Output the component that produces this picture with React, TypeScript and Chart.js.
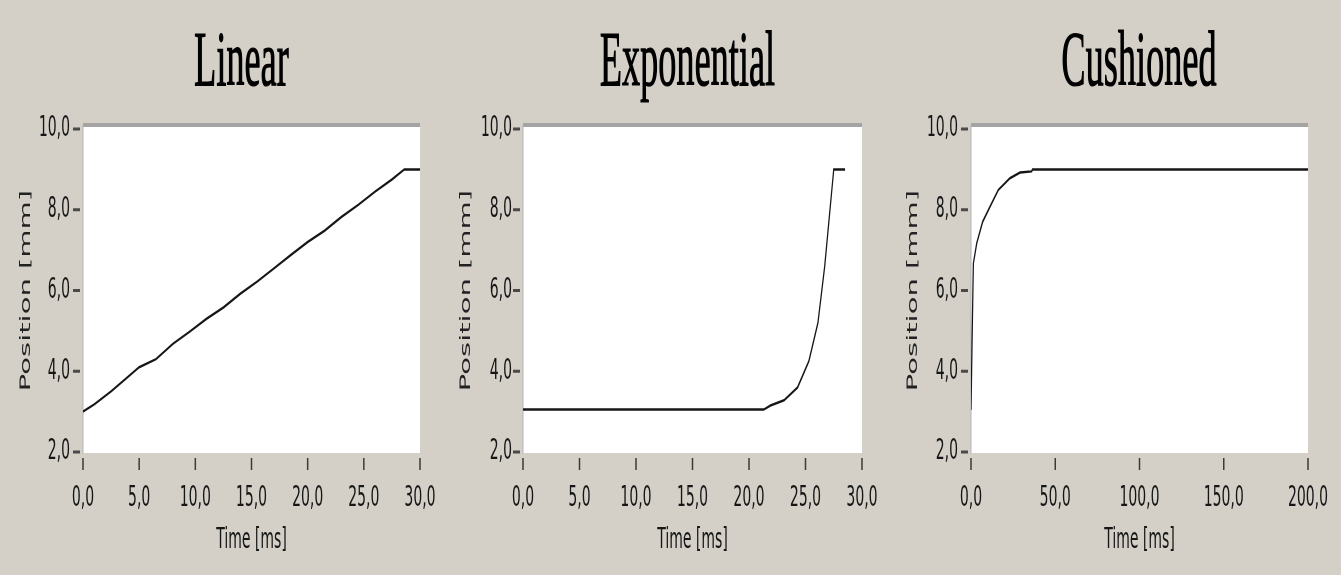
import React, { useEffect, useRef } from "react";
import { Chart, registerables } from "chart.js";

Chart.register(...registerables);

// ---- data ----
const chartTitles = ["Linear", "Exponential", "Cushioned"];

const linearTime = [0, 1, 2.5, 4, 5, 6.5, 8, 9.5, 11, 12.5, 14, 15.5, 17, 18.5, 20, 21.5, 23, 24.5, 26, 27.5, 28.6, 30];
const linearPos = [3.0, 3.18, 3.5, 3.86, 4.1, 4.3, 4.68, 4.98, 5.3, 5.58, 5.92, 6.22, 6.55, 6.88, 7.2, 7.48, 7.82, 8.12, 8.45, 8.75, 9.0, 9.0];

const expTime = [0, 21.3, 21.9, 23.1, 24.3, 25.3, 26.1, 26.7, 27.1, 27.5, 28.5];
const expPos = [3.05, 3.05, 3.15, 3.28, 3.6, 4.25, 5.2, 6.6, 7.8, 9.0, 9.0];

const cushTime = [0, 1, 1.4, 3.4, 6.9, 11.3, 16.2, 23.1, 29.1, 36, 36.5, 200];
const cushPos = [3.04, 5.68, 6.67, 7.17, 7.7, 8.08, 8.49, 8.78, 8.92, 8.95, 9.0, 9.0];

const yMin = 2;
const yMax = 10;
const yStep = 2;
const shortTimeMax = 30;
const shortTimeStep = 5;
const longTimeMax = 200;
const longTimeStep = 50;

const xAxisTitle = "Time [ms]";
const yAxisTitle = "Position [mm]";

// ---- layout (screen px) ----
const S = 0.5; // horizontal compression of every panel
const H = 575;
const PLOT_TOP = 129;
const PLOT_BOTTOM = 452;

type Panel = {
  title: string;
  time: number[];
  pos: number[];
  xMax: number;
  xStep: number;
  left: number;
  width: number;
  plotLeft: number;
  plotRight: number;
  yTitleX: number;
  yLabelGap: number;
  titleX: number;
};

const panels: Panel[] = [
  { title: chartTitles[0], time: linearTime, pos: linearPos, xMax: shortTimeMax, xStep: shortTimeStep, left: 0, width: 483, plotLeft: 83, plotRight: 420, yTitleX: 26, yLabelGap: 13, titleX: 241.5 },
  { title: chartTitles[1], time: expTime, pos: expPos, xMax: shortTimeMax, xStep: shortTimeStep, left: 450, width: 475, plotLeft: 523, plotRight: 862, yTitleX: 466, yLabelGap: 11, titleX: 687.5 },
  { title: chartTitles[2], time: cushTime, pos: cushPos, xMax: longTimeMax, xStep: longTimeStep, left: 900, width: 478, plotLeft: 971, plotRight: 1308, yTitleX: 913, yLabelGap: 13, titleX: 1139 },
];

const fmt = (v: number | string) => Number(v).toFixed(1).replace(".", ",");

const framePlugin = {
  id: "frame",
  beforeDraw(chart: any) {
    const { ctx, chartArea } = chart;
    const { left, right, top, bottom } = chartArea;
    ctx.save();
    ctx.fillStyle = "#ffffff";
    ctx.fillRect(left, top - 4, right - left, bottom - top + 5);
    ctx.fillStyle = "#a4a4a4";
    ctx.fillRect(left, top - 6, right - left, 4);
    ctx.fillStyle = "#b4b4b4";
    ctx.fillRect(left - 1, top - 4, 2, bottom - top + 5);
    const xs = chart.scales.x;
    const ys = chart.scales.y;
    ctx.strokeStyle = "#3a3a3a";
    ctx.lineWidth = 3;
    xs.ticks.forEach((t: any) => {
      const px = xs.getPixelForValue(t.value);
      ctx.beginPath();
      ctx.moveTo(px, bottom + 6);
      ctx.lineTo(px, bottom + 18);
      ctx.stroke();
    });
    ctx.strokeStyle = "#4a4a4a";
    ys.ticks.forEach((t: any) => {
      const py = ys.getPixelForValue(t.value);
      ctx.beginPath();
      ctx.moveTo(left - 20, py);
      ctx.lineTo(left - 6, py);
      ctx.stroke();
    });
    ctx.restore();
  },
};

const panelTitlePlugin = {
  id: "panelTitle",
  afterDraw(chart: any, _args: any, opts: any) {
    const ctx = chart.ctx;
    ctx.save();
    ctx.font = "78px 'Liberation Serif', 'Times New Roman', serif";
    ctx.fillStyle = "#000000";
    ctx.strokeStyle = "#000000";
    ctx.lineWidth = 1.2;
    ctx.textAlign = "center";
    ctx.textBaseline = "alphabetic";
    ctx.translate(opts.cx, opts.baseline);
    ctx.scale(opts.k, 1);
    ctx.fillText(opts.text, 0, 0);
    ctx.strokeText(opts.text, 0, 0);
    ctx.restore();
  },
};

function PanelChart({ p }: { p: Panel }) {
  const ref = useRef<HTMLCanvasElement | null>(null);
  useEffect(() => {
    if (!ref.current) return;
    const logicalW = Math.round(p.width / S);
    const plotLeftL = (p.plotLeft - p.left) / S;
    const plotRightL = (p.plotRight - p.left) / S;
    const rightPad = logicalW - plotRightL;
    const yTitleCenterL = (p.yTitleX - p.left) / S;
    const yTitleFont = 29;
    const tickFont = { family: "'DejaVu Sans', Verdana, sans-serif", size: 28 };
    const chart = new Chart(ref.current, {
      type: "line",
      data: {
        datasets: [
          {
            data: p.time.map((t, i) => ({ x: t, y: p.pos[i] })),
            borderColor: "#161616",
            borderWidth: 2.5,
            pointRadius: 0,
            tension: 0,
            fill: false,
          },
        ],
      },
      plugins: [framePlugin, panelTitlePlugin],
      options: {
        animation: false,
        responsive: false,
        maintainAspectRatio: false,
        layout: { padding: { left: 0, right: rightPad, top: PLOT_TOP, bottom: 0 } },
        plugins: {
          legend: { display: false },
          tooltip: { enabled: false },
          title: { display: false },
          panelTitle: { text: p.title, cx: (p.titleX - p.left) / S, baseline: 85, k: 0.93 },
        },
        scales: {
          x: {
            type: "linear",
            min: 0,
            max: p.xMax,
            grid: { display: false, drawTicks: false },
            border: { display: false },
            ticks: {
              stepSize: p.xStep,
              autoSkip: false,
              maxRotation: 0,
              padding: 30,
              color: "#161616",
              font: tickFont,
              callback: (v: any) => fmt(v),
            },
            title: {
              display: true,
              text: xAxisTitle,
              color: "#161616",
              font: { family: "'DejaVu Sans', Verdana, sans-serif", size: 28, lineHeight: 1.2 },
              padding: { top: 0, bottom: 17 },
            },
            afterFit: (s: any) => {
              s.height = H - PLOT_BOTTOM;
            },
          },
          y: {
            type: "linear",
            min: yMin,
            max: yMax,
            grid: { display: false, drawTicks: false },
            border: { display: false },
            ticks: {
              stepSize: yStep,
              padding: p.yLabelGap / S,
              color: "#161616",
              font: tickFont,
              callback: (v: any) => fmt(v),
            },
            title: {
              display: true,
              text: yAxisTitle,
              color: "#222222",
              font: { family: "'DejaVu Sans', Verdana, sans-serif", size: yTitleFont, lineHeight: 1.2 },
              padding: { top: yTitleCenterL - (yTitleFont * 1.2) / 2, bottom: 0 },
            },
            afterFit: (s: any) => {
              s.width = plotLeftL;
            },
          },
        },
      },
    } as any);
    return () => chart.destroy();
  }, [p]);
  const logicalW = Math.round(p.width / S);
  return (
    <canvas
      ref={ref}
      width={logicalW}
      height={H}
      style={{
        position: "absolute",
        left: p.left,
        top: 0,
        width: logicalW,
        height: H,
        transform: `scaleX(${S})`,
        transformOrigin: "0 0",
      }}
    />
  );
}

export default function App() {
  return (
    <div
      style={{
        position: "absolute",
        left: 0,
        top: 0,
        width: 1341,
        height: H,
        background: "#d4d0c8",
        overflow: "hidden",
      }}
    >
      {panels.map((p) => (
        <PanelChart key={p.title} p={p} />
      ))}
    </div>
  );
}
